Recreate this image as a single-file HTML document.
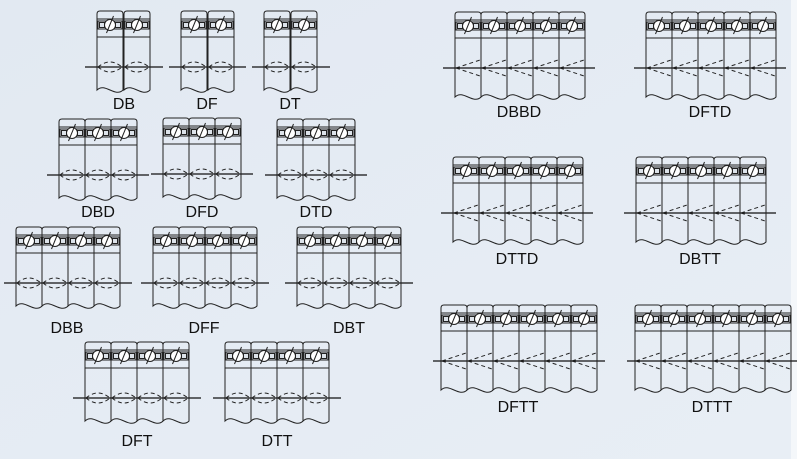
<!DOCTYPE html>
<html><head><meta charset="utf-8"><style>
html,body{margin:0;padding:0;background:#fff}
svg{display:block}
text{font-family:"Liberation Sans",sans-serif;font-size:16px;fill:#111;text-anchor:middle}
</style></head><body>
<svg width="797" height="459" viewBox="0 0 797 459" xmlns="http://www.w3.org/2000/svg">
<defs>
<linearGradient id="bg" x1="0" y1="0" x2="1" y2="1">
<stop offset="0" stop-color="#e2e9f2"/><stop offset="1" stop-color="#e8eef5"/>
</linearGradient>
<g id="band" fill="none" stroke="#222" stroke-width="1">
<path d="M0,3 Q0,0 3,0 H23 Q26,0 26,3"/>
<line x1="0" y1="8" x2="26" y2="8"/>
<rect x="1" y="10" width="24" height="8" fill="#dde3ea"/>
<rect x="2.5" y="11.5" width="5" height="5"/>
<rect x="18.5" y="11.5" width="5" height="5"/>
<circle cx="13" cy="14" r="5.5" fill="#fff"/>
<line x1="9.5" y1="22" x2="16.5" y2="5"/>
<line x1="0" y1="26" x2="26" y2="26"/>
</g>
<g id="c" fill="none" stroke="#222" stroke-width="1">
<use href="#band"/>
<path d="M0,3 V79 C8,71 18,87 26,79 V3"/>
<path d="M1,56 Q13,46 25,56 M1,56 Q13,66 25,56" stroke-dasharray="4,3"/>
</g>
<g id="cr" fill="none" stroke="#222" stroke-width="1">
<use href="#band"/>
<path d="M0,3 V85 C8,77 18,93 26,85 V3"/>
<path d="M1,56 L25,48 M1,56 L25,64" stroke-dasharray="4,3"/>
</g>
</defs>
<rect width="797" height="459" fill="url(#bg)"/>
<rect x="791" y="0" width="6" height="459" fill="#f4f7fa"/>
<g stroke="#111" stroke-width="1.2">
<line x1="85" y1="67" x2="163" y2="67"/><line x1="169" y1="67" x2="246" y2="67"/><line x1="252" y1="67" x2="330" y2="67"/>
<line x1="47" y1="175" x2="149" y2="175"/><line x1="151" y1="174" x2="253" y2="174"/><line x1="265" y1="175" x2="367" y2="175"/>
<line x1="4" y1="283" x2="132" y2="283"/><line x1="141" y1="283" x2="269" y2="283"/><line x1="285" y1="283" x2="413" y2="283"/>
<line x1="73" y1="398" x2="201" y2="398"/><line x1="213" y1="398" x2="341" y2="398"/>
<line x1="443" y1="68" x2="595" y2="68"/><line x1="634" y1="68" x2="786" y2="68"/>
<line x1="441" y1="213" x2="593" y2="213"/><line x1="624" y1="213" x2="776" y2="213"/>
<line x1="433" y1="361" x2="605" y2="361"/><line x1="627" y1="361" x2="797" y2="361"/>
</g>
<g transform="translate(97,11)"><use href="#c"/><use href="#c" x="27"/></g>
<g transform="translate(181,11)"><use href="#c"/><use href="#c" x="27"/></g>
<g transform="translate(264,11)"><use href="#c"/><use href="#c" x="27"/></g>
<g transform="translate(59,119)"><use href="#c"/><use href="#c" x="26"/><use href="#c" x="52"/></g>
<g transform="translate(163,118)"><use href="#c"/><use href="#c" x="26"/><use href="#c" x="52"/></g>
<g transform="translate(277,119)"><use href="#c"/><use href="#c" x="26"/><use href="#c" x="52"/></g>
<g transform="translate(16,227)"><use href="#c"/><use href="#c" x="26"/><use href="#c" x="52"/><use href="#c" x="78"/></g>
<g transform="translate(153,227)"><use href="#c"/><use href="#c" x="26"/><use href="#c" x="52"/><use href="#c" x="78"/></g>
<g transform="translate(297,227)"><use href="#c"/><use href="#c" x="26"/><use href="#c" x="52"/><use href="#c" x="78"/></g>
<g transform="translate(85,342)"><use href="#c"/><use href="#c" x="26"/><use href="#c" x="52"/><use href="#c" x="78"/></g>
<g transform="translate(225,342)"><use href="#c"/><use href="#c" x="26"/><use href="#c" x="52"/><use href="#c" x="78"/></g>
<g transform="translate(455,12)"><use href="#cr"/><use href="#cr" x="26"/><use href="#cr" x="52"/><use href="#cr" x="78"/><use href="#cr" x="104"/></g>
<g transform="translate(646,12)"><use href="#cr"/><use href="#cr" x="26"/><use href="#cr" x="52"/><use href="#cr" x="78"/><use href="#cr" x="104"/></g>
<g transform="translate(453,157)"><use href="#cr"/><use href="#cr" x="26"/><use href="#cr" x="52"/><use href="#cr" x="78"/><use href="#cr" x="104"/></g>
<g transform="translate(636,157)"><use href="#cr"/><use href="#cr" x="26"/><use href="#cr" x="52"/><use href="#cr" x="78"/><use href="#cr" x="104"/></g>
<g transform="translate(441,305)"><use href="#cr"/><use href="#cr" x="26"/><use href="#cr" x="52"/><use href="#cr" x="78"/><use href="#cr" x="104"/><use href="#cr" x="130"/></g>
<g transform="translate(635,305)"><use href="#cr"/><use href="#cr" x="26"/><use href="#cr" x="52"/><use href="#cr" x="78"/><use href="#cr" x="104"/><use href="#cr" x="130"/></g>
<text x="124" y="109">DB</text><text x="207" y="109">DF</text><text x="290" y="109">DT</text>
<text x="98" y="217">DBD</text><text x="202" y="217">DFD</text><text x="316" y="217">DTD</text>
<text x="67" y="333">DBB</text><text x="204" y="333">DFF</text><text x="349" y="333">DBT</text>
<text x="137" y="446">DFT</text><text x="277" y="446">DTT</text>
<text x="519" y="117">DBBD</text><text x="710" y="117">DFTD</text>
<text x="517" y="264">DTTD</text><text x="700" y="264">DBTT</text>
<text x="518" y="412">DFTT</text><text x="712" y="412">DTTT</text>
</svg>
</body></html>
